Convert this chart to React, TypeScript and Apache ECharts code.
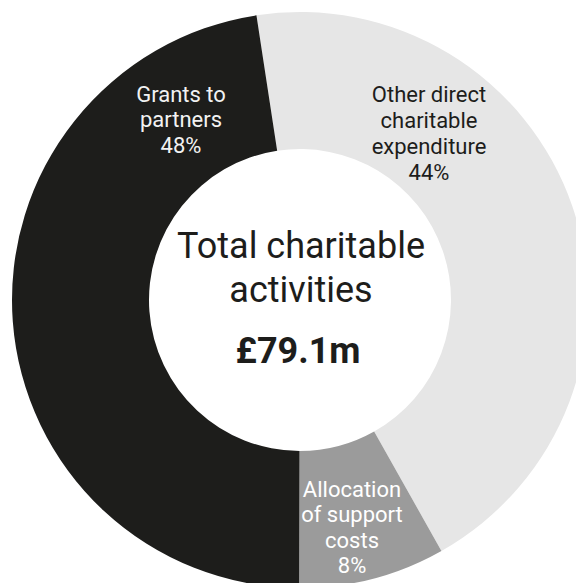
import React, { useEffect, useRef } from "react";
import * as echarts from "echarts";

const categories = [
  "Other direct\ncharitable\nexpenditure",
  "Allocation\nof support\ncosts",
  "Grants to\npartners",
];
// £m (labels show rounded shares 44% / 8% / 48%)
const values = [35.0, 6.5, 37.6];
const sliceColors = ["#e6e6e6", "#9b9b9b", "#1d1d1b"];
const labelColors = ["#1d1d1b", "#ffffff", "#f2f2f2"];
const centerTitle = "Total charitable\nactivities";
const centerTotal = "£79.1m";

// label block centres (layout only)
const labelPos = [
  [429, 133],
  [352, 527.5],
  [181, 119.5],
];
const labelLineHeights = [26, 25.5, 25.5];

export default function App() {
  const ref = useRef<HTMLDivElement>(null);
  useEffect(() => {
    document.body.style.margin = "0";
    const chart = echarts.init(ref.current!, null, { renderer: "svg" });
    const font = "Roboto, 'Liberation Sans', Arial, sans-serif";
    chart.setOption({
      animation: false,
      backgroundColor: "#ffffff",
      series: [
        {
          type: "pie",
          center: [300, 300],
          radius: [151, 288],
          startAngle: 98.7,
          clockwise: true,
          silent: true,
          itemStyle: { borderWidth: 0 },
          label: {
            show: true,
            position: "inside",
            formatter: (p: any) => `${p.name}\n${Math.round(p.percent)}%`,
            fontFamily: font,
            fontSize: 22,
            align: "center",
          },
          labelLine: { show: false },
          labelLayout: (p: any) => ({
            x: labelPos[p.dataIndex][0],
            y: labelPos[p.dataIndex][1],
            align: "center",
            verticalAlign: "middle",
          }),
          data: categories.map((name, i) => ({
            name,
            value: values[i],
            itemStyle: { color: sliceColors[i] },
            label: { color: labelColors[i], lineHeight: labelLineHeights[i] },
          })),
        },
      ],
      graphic: [
        {
          type: "text",
          x: 301,
          y: 267.8,
          style: {
            text: centerTitle,
            fontFamily: font,
            fontSize: 36,
            lineHeight: 44,
            fill: "#1d1d1b",
            align: "center",
            verticalAlign: "middle",
          },
        },
        {
          type: "text",
          x: 298,
          y: 351,
          style: {
            text: centerTotal,
            fontFamily: font,
            fontSize: 36,
            fontWeight: "bold",
            fill: "#1d1d1b",
            align: "center",
            verticalAlign: "middle",
          },
        },
      ],
    });
    return () => chart.dispose();
  }, []);
  return <div ref={ref} style={{ width: 576, height: 583 }} />;
}
